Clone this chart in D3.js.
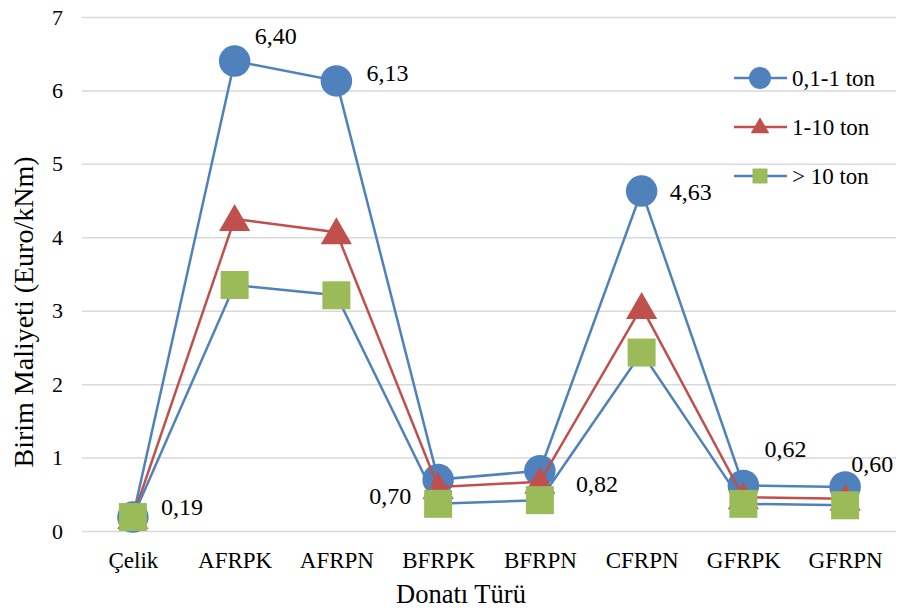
<!DOCTYPE html>
<html>
<head>
<meta charset="utf-8">
<script src="https://cdn.jsdelivr.net/npm/d3@7"></script>
<style>
  body { margin: 0; background: #fff; }
</style>
</head>
<body>
<script>
// values
const categories = ['Çelik', 'AFRPK', 'AFRPN', 'BFRPK', 'BFRPN', 'CFRPN', 'GFRPK', 'GFRPN'];
const seriesNames = ['0,1-1 ton', '1-10 ton', '> 10 ton'];
const small = [0.19, 6.40, 6.13, 0.70, 0.82, 4.63, 0.62, 0.60];
const medium = [0.19, 4.25, 4.07, 0.60, 0.67, 3.05, 0.46, 0.44];
const large = [0.19, 3.35, 3.21, 0.37, 0.42, 2.43, 0.37, 0.35];
const yTicks = [0, 1, 2, 3, 4, 5, 6, 7];

// where each data label sits relative to its point
const labelOffsets = [[28, -2, 'start'], [20, -17, 'start'], [30, 0, 'start'], [-27, 24, 'end'],
                      [36, 21, 'start'], [28, 9, 'start'], [21, -28, 'start'], [6, -15, 'start']];

const width = 898, height = 614;
const plotLeft = 82, plotRight = 896, plotTop = 17, plotBottom = 531;
const font = '"Liberation Serif", "Times New Roman", serif';

const svg = d3.select('body').append('svg')
    .attr('width', width)
    .attr('height', height)
    .style('font-family', font);

const x = d3.scalePoint()
    .domain(categories)
    .range([plotLeft, plotRight])
    .padding(0.5);

const y = d3.scaleLinear()
    .domain([0, 7])
    .range([plotBottom, plotTop]);

// grid + y labels
const yAxis = svg.append('g')
    .attr('transform', `translate(${plotLeft},0)`)
    .call(d3.axisLeft(y).tickValues(yTicks).tickSize(-(plotRight - plotLeft)).tickPadding(19).tickFormat(d3.format('d')));
yAxis.select('.domain').remove();
yAxis.selectAll('line').attr('stroke', '#d9d9d9').attr('stroke-width', 1.5);
yAxis.attr('font-family', null).attr('font-size', null);
yAxis.selectAll('text').attr('fill', '#000').style('font-size', '22px');

const xAxis = svg.append('g')
    .attr('transform', `translate(0,${plotBottom})`)
    .call(d3.axisBottom(x).tickSize(0).tickPadding(21));
xAxis.select('.domain').remove();
xAxis.attr('font-family', null).attr('font-size', null);
xAxis.selectAll('text').attr('fill', '#000').style('font-size', '23px');

// axis titles
svg.append('text')
    .attr('transform', 'rotate(-90)')
    .attr('x', -312)
    .attr('y', 33)
    .attr('text-anchor', 'middle')
    .style('font-size', '28px')
    .text('Birim Maliyeti (Euro/kNm)');

svg.append('text')
    .attr('x', 461)
    .attr('y', 603)
    .attr('text-anchor', 'middle')
    .style('font-size', '26.5px')
    .text('Donatı Türü');

const series = [
    { name: seriesNames[0], values: small, line: '#4f81bd', fill: '#4f81bd', shape: d3.symbolCircle, size: 780, legendSize: 380 },
    { name: seriesNames[1], values: medium, line: '#c0504d', fill: '#c0504d', shape: d3.symbolTriangle, size: 420, legendSize: 150 },
    { name: seriesNames[2], values: large, line: '#4f81bd', fill: '#9bbb59', shape: d3.symbolSquare, size: 784, legendSize: 225 }
];

const line = d3.line()
    .x((d, i) => x(categories[i]))
    .y(d => y(d));

series.forEach(s => {
    const g = svg.append('g');
    g.append('path')
        .datum(s.values)
        .attr('d', line)
        .attr('fill', 'none')
        .attr('stroke', s.line)
        .attr('stroke-width', 2.5);
    g.selectAll('path.mark')
        .data(s.values)
        .enter()
        .append('path')
        .attr('class', 'mark')
        .attr('d', d3.symbol().type(s.shape).size(s.size))
        .attr('transform', (d, i) => `translate(${x(categories[i])},${y(d) + (s.shape === d3.symbolTriangle ? 3 : 0)})`)
        .attr('fill', s.fill);
});

// value labels for the first series
svg.selectAll('text.val')
    .data(small)
    .enter()
    .append('text')
    .attr('class', 'val')
    .attr('x', (d, i) => x(categories[i]) + labelOffsets[i][0])
    .attr('y', (d, i) => y(d) + labelOffsets[i][1])
    .attr('text-anchor', (d, i) => labelOffsets[i][2])
    .style('font-size', '24px')
    .text(d => d.toFixed(2).replace('.', ','));

// legend
const legend = svg.append('g');
series.forEach((s, i) => {
    const ly = 78 + i * 49;
    legend.append('line')
        .attr('x1', 734).attr('x2', 787)
        .attr('y1', ly).attr('y2', ly)
        .attr('stroke', s.line)
        .attr('stroke-width', 2.5);
    legend.append('path')
        .attr('d', d3.symbol().type(s.shape).size(s.legendSize))
        .attr('transform', `translate(760,${ly + (s.shape === d3.symbolTriangle ? 1 : 0)})`)
        .attr('fill', s.fill);
    legend.append('text')
        .attr('x', 792)
        .attr('y', ly + 8)
        .style('font-size', '23px')
        .text(s.name);
});
</script>
</body>
</html>
